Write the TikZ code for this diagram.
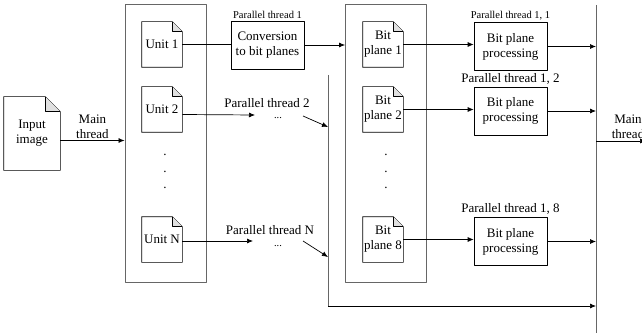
\documentclass[tikz,border=0pt]{standalone}
\usepackage{fontspec}
\setmainfont{Liberation Serif}
\usetikzlibrary{arrows.meta}
\tikzset{
 doc/.style={minimum width=40pt,minimum height=45pt,inner sep=1pt,align=center},
 procbox/.style={draw,minimum width=73pt,minimum height=48pt,inner sep=1pt,align=center},
 container/.style={draw=black!60,line width=0.9pt,minimum width=81pt,minimum height=278pt},
 bus/.style={draw=black!60,line width=0.9pt},
 flow/.style={-{Latex[length=6pt,width=5pt]}},
 smalllbl/.style={font=\fontsize{10.5}{12}\selectfont},
}
% outline of a note with a folded corner
\newcommand{\docoutline}[2]{%
 \draw (#1.south west) -- (#1.north west) -- ([xshift=-#2]#1.north east)
   -- ([yshift=-#2]#1.north east) -- (#1.south east) -- cycle;
 \draw[fill=black!12] ([xshift=-#2]#1.north east) -- ([xshift=-#2,yshift=-#2]#1.north east)
   -- ([yshift=-#2]#1.north east);
}
\begin{document}
\begin{tikzpicture}[x=1pt,y=-1pt,line join=round,line width=0.7pt,font=\fontsize{13}{15}\selectfont]
 \useasboundingbox (0,0) rectangle (642,334);
 % input
 \node[doc,minimum width=56pt,minimum height=73pt] (in) at (32,133.5) {Input\\image};
 \docoutline{in}{15pt}
 % the two containers
 \node[container] (units) at (165.5,143) {};
 \node[container] (bits) at (386,143) {};
 \draw[flow] ([yshift=-7pt]in.east) -- ([yshift=-7pt]in.east -| units.west)
   node[midway,above,align=center,inner sep=2pt]{Main\\thread};
 % units
 \node[doc] (u1) at (162,44.5) {Unit 1};
 \node[doc] (u2) at (162,109.5) {Unit 2};
 \node[doc] (uN) at (162,239.5) {Unit N};
 \foreach \n in {u1,u2,uN} \docoutline{\n}{10pt};
 \foreach \y [count=\i] in {155,172,188} {
  \node[inner sep=0] (ud\i) at (165,\y) {.};
  \node[inner sep=0] (bd\i) at (386,\y) {.};
 }
 % bit planes
 \node[doc] (b1) at (383,44.5) {Bit\\plane 1};
 \node[doc] (b2) at (383,109.5) {Bit\\plane 2};
 \node[doc] (b8) at (383,239.5) {Bit\\plane 8};
 \foreach \n in {b1,b2,b8} \docoutline{\n}{10pt};
 % thread 1
 \node[procbox] (conv) at (267.5,45) {Conversion\\to bit planes};
 \node[smalllbl,above,inner sep=2pt] (pt1) at (conv.north) {Parallel thread 1};
 \draw (u1.east) -- (u1.east -| conv.west);
 \draw[flow] (conv.east) -- (conv.east -| bits.west);
 % threads 2 and N
 \coordinate (t2) at (255,115);
 \coordinate (tN) at (253,241);
 \draw[flow] ([yshift=-5pt]u2.east) -- (t2);
 \draw[flow] ([yshift=-1.5pt]uN.east) -- (tN);
 \node (pt2) at (267,103) {Parallel thread 2};
 \node (ptN) at (270,230) {Parallel thread N};
 \node[smalllbl] (dots2) at (278,118) {...};
 \node[smalllbl] (dotsN) at (278,246) {...};
 % collecting line
 \coordinate (busTop) at (328,75);
 \coordinate (busCorner) at (328,306);
 \coordinate (outTop) at (596,5);
 \coordinate (outBot) at (596,333);
 \coordinate (d2) at (303,116);
 \coordinate (dN) at (303,241);
 \draw[bus] (busTop) -- (busCorner);
 \draw[flow] (busCorner) -- (busCorner -| outTop);
 \draw[flow] (d2) -- (busTop |- 0,127);
 \draw[flow] (dN) -- (busTop |- 0,257);
 % bit plane processing
 \node[procbox] (p1) at (510.5,46.5) {Bit plane\\processing};
 \node[procbox] (p2) at (510.5,111) {Bit plane\\processing};
 \node[procbox] (p8) at (510.5,241.5) {Bit plane\\processing};
 \node[smalllbl,above,inner sep=2pt] (l1) at (p1.north) {Parallel thread 1, 1};
 \node[above,inner sep=2pt] (l2) at (p2.north) {Parallel thread 1, 2};
 \node[above,inner sep=2pt] (l8) at (p8.north) {Parallel thread 1, 8};
 \draw[flow] (b1.east) -- (b1.east -| p1.west);
 \draw[flow] (b2.east) -- (b2.east -| p2.west);
 \draw[flow] (b8.east) -- (b8.east -| p8.west);
 \foreach \n in {p1,p2,p8} \draw[flow] (\n.east) -- (\n.east -| outTop);
 % output
 \draw[bus] (outTop) -- (outBot);
 \draw[flow] (outTop |- 0,141) -- (646,141)
   node[pos=0.64,above,align=center,inner sep=2pt]{Main\\thread};
\end{tikzpicture}
\end{document}
